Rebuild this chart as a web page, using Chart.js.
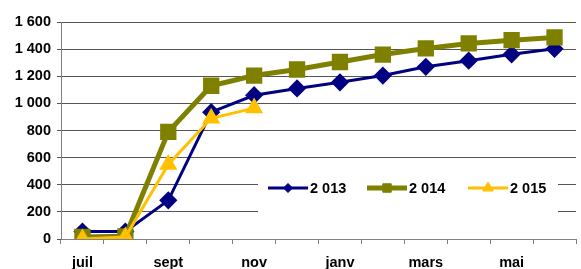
<!DOCTYPE html>
<html>
<head>
<meta charset="utf-8">
<script src="https://cdn.jsdelivr.net/npm/chart.js@4"></script>
<style>
  html, body { margin: 0; padding: 0; background: #fff; overflow: hidden; }
  #wrap { position: relative; width: 589px; height: 274px; }
</style>
</head>
<body>
<div id="wrap"><canvas id="chart" width="589" height="274"></canvas></div>
<script>
// months from July to June
const months = ['juil', 'août', 'sept', 'oct', 'nov', 'déc', 'janv', 'févr', 'mars', 'avr', 'mai', 'juin'];

const values2013 = [55, 55, 285, 935, 1060, 1110, 1155, 1205, 1270, 1315, 1362, 1402];
const values2014 = [15, 20, 790, 1130, 1205, 1250, 1305, 1360, 1405, 1442, 1466, 1486];
const values2015 = [0, 15, 550, 890, 965];

const seriesNames = ['2 013', '2 014', '2 015'];
const fontFamily = '"Liberation Sans", Arial, sans-serif';

const fmt = v => String(v).replace(/\B(?=(\d{3})+(?!\d))/g, ' ');

// legend drawn inside the plot, on a white box
const insideLegend = {
  id: 'insideLegend',
  afterDatasetsDraw(chart) {
    const { ctx } = chart;
    ctx.save();
    ctx.fillStyle = '#fff';
    ctx.fillRect(258, 172, 300, 42);
    const startX = [268, 367, 468];
    const y = 188;
    chart.data.datasets.forEach((ds, i) => {
      const x = startX[i];
      ctx.strokeStyle = ds.borderColor;
      ctx.fillStyle = ds.borderColor;
      ctx.lineWidth = ds.borderWidth;
      ctx.beginPath();
      ctx.moveTo(x, y);
      ctx.lineTo(x + 40, y);
      ctx.stroke();
      ctx.lineWidth = 1;
      Chart.helpers.drawPoint(ctx, { pointStyle: ds.pointStyle, radius: ds.legendRadius, borderWidth: 1 }, x + 20, y);
      ctx.fillStyle = '#000';
      ctx.font = 'bold 14.5px ' + fontFamily;
      ctx.textBaseline = 'middle';
      ctx.fillText(ds.label, x + 42, y + 1);
    });
    ctx.restore();
  }
};

new Chart(document.getElementById('chart'), {
  type: 'line',
  data: {
    labels: months,
    datasets: [
      {
        label: seriesNames[0],
        data: values2013,
        borderColor: '#000080',
        backgroundColor: '#000080',
        borderWidth: 3,
        pointStyle: 'rectRot',
        pointRadius: 7,
        legendRadius: 4.5,
        order: 3,
      },
      {
        label: seriesNames[1],
        data: values2014,
        borderColor: '#808000',
        backgroundColor: '#808000',
        borderWidth: 5,
        pointStyle: 'rect',
        pointRadius: 8,
        legendRadius: 6,
        order: 2,
      },
      {
        label: seriesNames[2],
        data: values2015,
        borderColor: '#FFC000',
        backgroundColor: '#FFC000',
        borderWidth: 3,
        pointStyle: 'triangle',
        pointRadius: 7.5,
        legendRadius: 6,
        order: 1,
      },
    ],
  },
  options: {
    responsive: false,
    animation: false,
    layout: { padding: { top: 22, left: 0, right: 0, bottom: 0 } },
    plugins: { legend: { display: false }, tooltip: { enabled: false } },
    elements: {
      line: { tension: 0 },
      point: { borderWidth: 1, hoverRadius: 7 },
    },
    scales: {
      x: {
        offset: true,
        grid: { offset: true, drawOnChartArea: false, drawTicks: true, tickLength: 5, color: '#808080' },
        border: { color: '#808080', width: 1 },
        ticks: {
          autoSkip: false,
          maxRotation: 0,
          padding: 10,
          color: '#000',
          font: { family: fontFamily, size: 14.5, weight: 'bold' },
          callback: (v, i) => (i % 2 === 0 ? months[i] : ''),
        },
        afterFit: s => { s.height = 35; },
      },
      y: {
        min: 0,
        max: 1600,
        ticks: {
          stepSize: 200,
          padding: 6,
          color: '#000',
          font: { family: fontFamily, size: 14.5, weight: 'bold' },
          callback: v => fmt(v),
        },
        grid: { color: '#555', lineWidth: 1, tickLength: 4 },
        border: { color: '#808080', width: 1 },
        afterFit: s => { s.width = 61; },
      },
    },
  },
  plugins: [insideLegend],
});
</script>
</body>
</html>
